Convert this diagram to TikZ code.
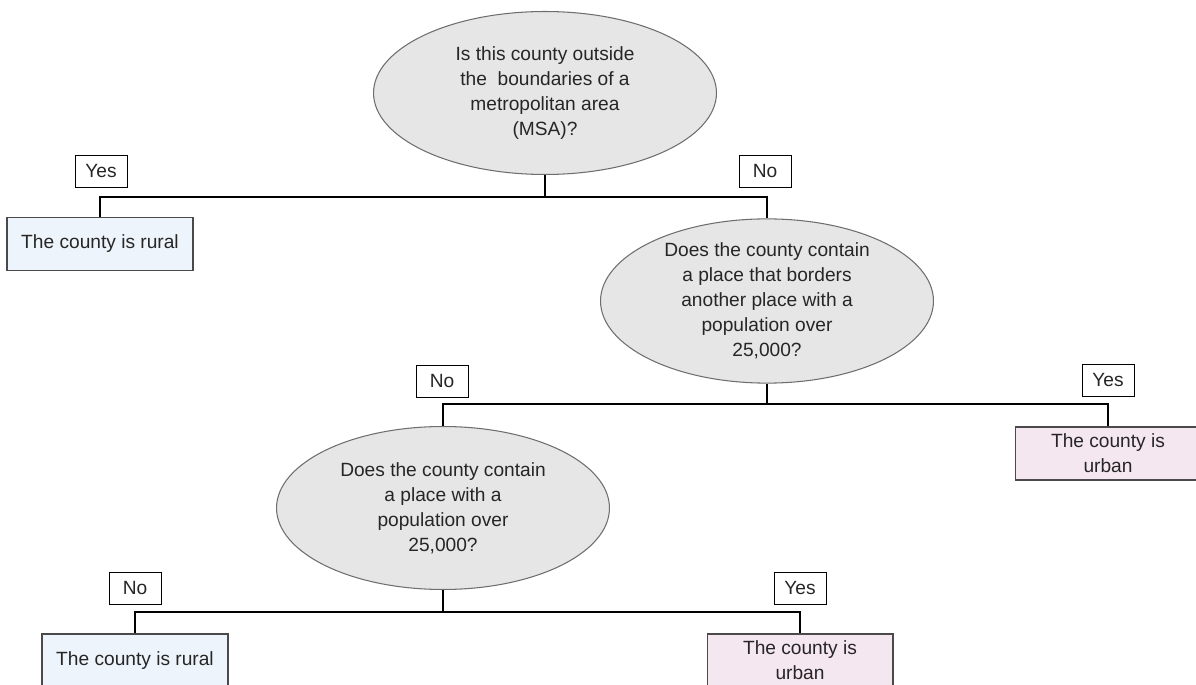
\documentclass[tikz,border=0pt]{standalone}
\usepackage{fontspec}
\setmainfont{Liberation Sans}
\usepackage{xcolor}
\usetikzlibrary{shapes.geometric}

\definecolor{qfill}{HTML}{E6E6E6}
\definecolor{qline}{HTML}{6E6E6E}
\definecolor{ruralfill}{HTML}{EEF4FB}
\definecolor{urbanfill}{HTML}{F5E7EF}
\definecolor{leafline}{HTML}{4A4A4A}
\definecolor{txt}{HTML}{262626}

\begin{document}
\begin{tikzpicture}[x=0.02cm,y=-0.02cm,
  font=\fontsize{10.9}{14.2}\selectfont, text=txt,
  question/.style={ellipse, draw=qline, fill=qfill, line width=0.6pt, inner sep=0pt,
    minimum width=6.66cm, minimum height=3.26cm, align=center},
  answer/.style={draw=black, fill=white, line width=0.5pt, inner sep=0pt,
    minimum width=1.04cm, minimum height=0.64cm},
  rural/.style={draw=leafline, fill=ruralfill, line width=0.6pt, inner sep=0pt,
    minimum width=3.72cm, minimum height=1.06cm, align=center},
  urban/.style={rural, fill=urbanfill},
  link/.style={draw=black, line width=0.6pt}]

\useasboundingbox (0,0) rectangle (1196,685);

% First question
\node[question, minimum width=6.86cm] (msa) at (545,93)
  {Is this county outside\\the\ \ boundaries of a\\metropolitan area\\(MSA)?};
\node[answer] (yes1) at (101,171) {Yes};
\node[answer] (no1) at (765,171) {No};
\coordinate (j1) at (msa.south |- 0,197);
\node[rural] (rural1) at (100,244) {The county is rural};
\draw[link] (msa.south) -- (j1);
\draw[link] (j1) -| (rural1.north);

% Second question
\node[question] (border) at (767,301)
  {Does the county contain\\a place that borders\\another place with a\\population over\\25,000?};
\draw[link] (j1) -| (border.north);
\node[answer] (no2) at (442,381) {No};
\node[answer] (yes2) at (1108,380) {Yes};
\coordinate (j2) at (border.south |- 0,404);
\node[urban] (urban1) at (1108,453.5) {The county is\\urban};
\draw[link] (border.south) -- (j2);
\draw[link] (j2) -| (urban1.north);

% Third question
\node[question] (pop) at (443,508)
  {Does the county contain\\a place with a\\population over\\25,000?};
\draw[link] (j2) -| (pop.north);
\node[answer] (no3) at (135,588) {No};
\node[answer] (yes3) at (800,588) {Yes};
\coordinate (j3) at (pop.south |- 0,612);
\node[rural] (rural2) at (135,660.5) {The county is rural};
\node[urban] (urban2) at (800,660.5) {The county is\\urban};
\draw[link] (pop.south) -- (j3);
\draw[link] (j3) -| (rural2.north);
\draw[link] (j3) -| (urban2.north);

\end{tikzpicture}
\end{document}
